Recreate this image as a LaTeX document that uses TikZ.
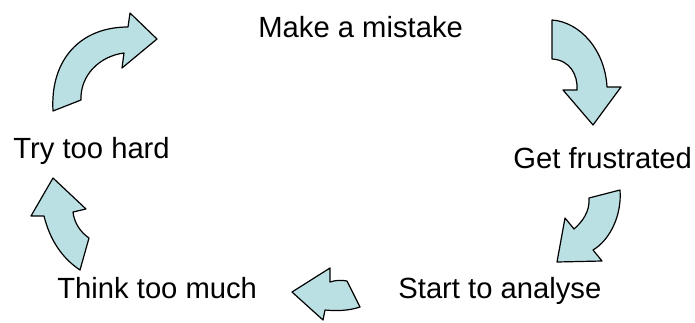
\documentclass[tikz,border=0pt]{standalone}
\usepackage{fontspec}
\setmainfont{Liberation Sans}
\usepackage{tikz}
\definecolor{arrowfill}{RGB}{187,224,227}

\begin{document}
\begin{tikzpicture}[x=0.5pt, y=-0.5pt, every node/.style={font=\fontsize{14.6}{17}\selectfont, inner sep=0pt, anchor=base west}, cyclearrow/.style={fill=arrowfill, draw=black, line width=0.6pt, line join=round}]
	\useasboundingbox (0,0) rectangle (695,322);
	\node (mistake) at (258,37) {Make a mistake};
	\node (frustrated) at (513,168) {Get frustrated};
	\node (analyse) at (398,298) {Start to analyse};
	\node (think) at (57,298) {Think too much};
	\node (hard) at (13,158) {Try too hard};
	% top left
	\draw[cyclearrow] (53,111) -- (81,100) .. controls (80,75) and (100,56) .. (124,53) -- (122,68) -- (157,39) -- (130,13) -- (128,27) .. controls (80,27) and (50,60) .. (53,111) -- cycle;
	% top right
	\draw[cyclearrow] (552,20) -- (552,59) .. controls (570,60) and (578,75) .. (577,90) -- (563,90) -- (593,125) -- (621,87) -- (607,87) .. controls (605,50) and (580,22) .. (552,20) -- cycle;
	% lower right
	\draw[cyclearrow] (620,190) -- (589,198) .. controls (590,212) and (582,222) .. (574,229) -- (565,218) -- (557,262) -- (602,261) -- (593,250) .. controls (610,240) and (622,215) .. (620,190) -- cycle;
	% bottom
	\draw[cyclearrow] (292,292) -- (330,268) -- (330,282) .. controls (336,280) and (342,280) .. (347,281) -- (360,307) .. controls (348,311) and (336,311) .. (325,310) -- (323,320) -- cycle;
	% left
	\draw[cyclearrow] (53,178) -- (31,216) -- (44,216) .. controls (50,240) and (62,258) .. (80,270) -- (89,238) .. controls (80,232) and (74,222) .. (73,212) -- (86,209) -- cycle;
\end{tikzpicture}
\end{document}
